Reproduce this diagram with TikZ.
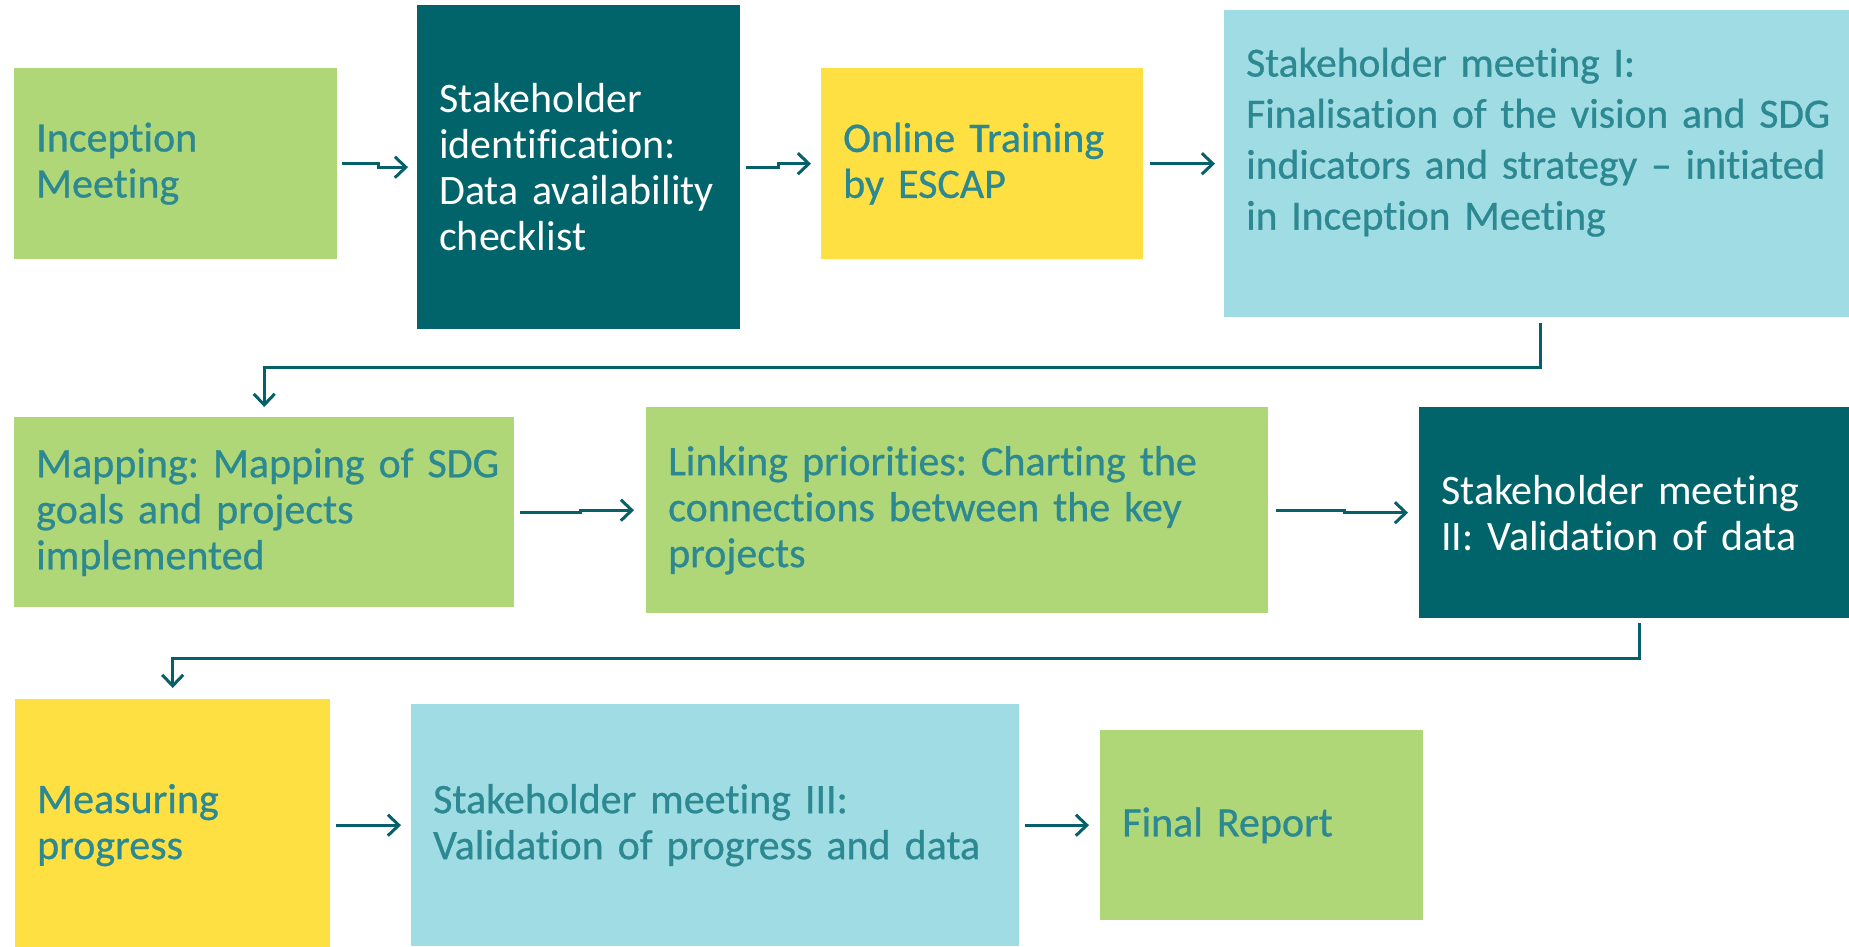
\documentclass[tikz,border=0pt]{standalone}
\usepackage{fontspec}
\setmainfont{Carlito}[Ligatures=NoCommon,WordSpace=0.9]
\newfontfamily\tealfont{Carlito}[Ligatures=NoCommon,FakeBold=0.7,WordSpace=0.85]
\usetikzlibrary{arrows.meta}
\definecolor{cgreen}{HTML}{B0D777}
\definecolor{cdark}{HTML}{02646B}
\definecolor{cyellow}{HTML}{FFE043}
\definecolor{cblue}{HTML}{A0DCE3}
\definecolor{ctext}{HTML}{2C8992}
\definecolor{carrow}{HTML}{05606A}
\begin{document}
\frenchspacing
\begin{tikzpicture}[x=1pt,y=-1pt,
  box/.style={rectangle, inner xsep=22pt, inner ysep=0pt, anchor=north west,
    align=left, font=\tealfont\fontsize{42}{46}\selectfont, text=ctext},
  darkbox/.style={box, fill=cdark, text=white, font=\normalfont\fontsize{42}{46}\selectfont},
  flow/.style={draw=carrow, line width=3pt, -{Straight Barb[length=11pt,width=21pt]}}]
\useasboundingbox (0,0) rectangle (1849,947);
\begin{scope}
\clip (0,0) rectangle (1849,947);
\node[box, fill=cgreen, text width=279pt, minimum height=191pt] (n1) at (14,68) {Inception\\Meeting};
\node[darkbox, text width=279pt, minimum height=324pt] (n2) at (417,5) {Stakeholder\\identification:\\Data availability\\checklist};
\node[box, fill=cyellow, text width=278pt, minimum height=191pt] (n3) at (821,68) {Online Training\\by ESCAP};
\node[box, fill=cblue, text width=588pt, minimum height=307pt, font=\tealfont\fontsize{41.5}{51}\selectfont] (n4) at (1224,10) {\mbox{Stakeholder meeting I:}\\\mbox{Finalisation of the vision and SDG}\\\mbox{indicators and strategy – initiated}\\\mbox{in Inception Meeting}\rule[-50pt]{0pt}{1pt}};
\node[box, fill=cgreen, text width=456pt, minimum height=190pt] (n5) at (14,417) {\mbox{Mapping: Mapping of SDG}\\goals and projects\\implemented};
\node[box, fill=cgreen, text width=578pt, minimum height=206pt] (n6) at (646,407) {\mbox{Linking priorities: Charting the}\\\mbox{connections between the key}\\projects};
\node[darkbox, text width=396pt, minimum height=211pt] (n7) at (1419,407) {\mbox{Stakeholder meeting}\\\mbox{II: Validation of data}};
\node[box, fill=cyellow, text width=271pt, minimum height=252pt] (n8) at (15,699) {Measuring\\progress};
\node[box, fill=cblue, text width=564pt, minimum height=242pt] (n9) at (411,704) {\mbox{Stakeholder meeting III:}\\\mbox{Validation of progress and data}};
\node[box, fill=cgreen, text width=279pt, minimum height=190pt] (n10) at (1100,730) {Final Report};
\end{scope}
\draw[flow] ([xshift=5pt]n1.east) -- ++(36,0) |- ([xshift=-9pt]n2.west);
\draw[flow] ([xshift=6pt]n2.east) -- ++(32,0) |- ([xshift=-10pt]n3.west);
\draw[flow] ([xshift=7pt]n3.east) -- ([xshift=-9pt]n4.west);
\draw[flow] ([yshift=-6pt]n4.south) -- ++(0,44) -| ([yshift=10pt]n5.north);
\draw[flow] ([xshift=6pt]n5.east) -- ++(60,0) |- ([xshift=-12pt]n6.west);
\draw[flow] ([xshift=8pt]n6.east) -- ++(68,0) |- ([xshift=-11pt]n7.west);
\draw[flow] ([yshift=-5pt]n7.south) -- ++(0,35) -| ([yshift=11pt]n8.north);
\draw[flow] ([xshift=6pt]n8.east) -- ([xshift=-10pt]n9.west);
\draw[flow] ([xshift=6pt]n9.east) -- ([xshift=-11pt]n10.west);
\end{tikzpicture}
\end{document}
